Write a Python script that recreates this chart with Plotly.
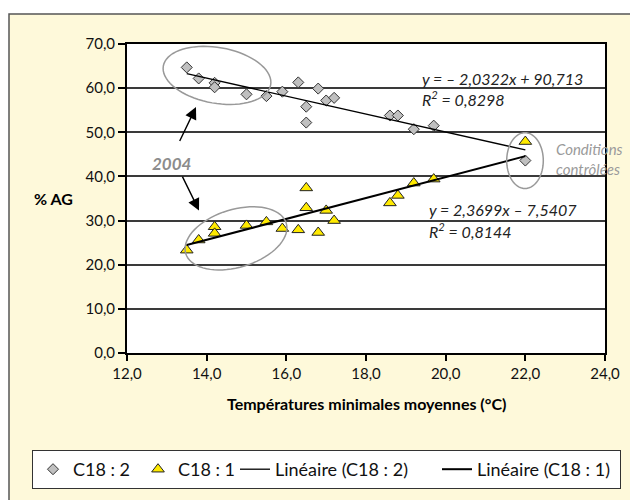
import math
import plotly.graph_objects as go

# ---------------- data ----------------
temp_c182 = [13.5, 13.8, 14.2, 14.2, 15.0, 15.5, 15.9, 16.3, 16.5, 16.5, 16.8, 17.0, 17.2, 18.6, 18.8, 19.2, 19.7, 22.0]
val_c182 = [64.7, 62.2, 61.2, 60.2, 58.6, 58.2, 59.2, 61.3, 55.8, 52.2, 59.9, 57.2, 57.8, 53.8, 53.8, 50.7, 51.5, 43.6]
temp_c181 = [13.5, 13.8, 14.2, 14.2, 15.0, 15.5, 15.9, 16.3, 16.5, 16.5, 16.8, 17.0, 17.2, 18.6, 18.8, 19.2, 19.7, 22.0]
val_c181 = [23.3, 25.6, 28.6, 27.1, 28.9, 29.7, 28.2, 27.9, 37.4, 32.9, 27.3, 32.3, 30.0, 34.0, 35.7, 38.5, 39.4, 47.9]

fit_c182 = (-2.0322, 90.713)   # slope, intercept
fit_c181 = (2.3699, -7.5407)
fit_x_range = [13.5, 22.0]

x_tickvals = [12, 14, 16, 18, 20, 22, 24]
x_ticktext = ["12,0", "14,0", "16,0", "18,0", "20,0", "22,0", "24,0"]
y_tickvals = [0, 10, 20, 30, 40, 50, 60, 70]
y_ticktext = ["0,0", "10,0", "20,0", "30,0", "40,0", "50,0", "60,0", "70,0"]

name_c182 = "C18 : 2"
name_c181 = "C18 : 1"
name_lin182 = "Linéaire (C18 : 2)"
name_lin181 = "Linéaire (C18 : 1)"

# ---------------- layout geometry ----------------
# The page body has an 8px margin, so the figure is drawn 8px right / down.
OFF = 8
W, H = 638 - OFF, 500 - OFF
# plot area in page pixels: x 127..605, y 44..354
ML, MR, MT, MB = 127 - OFF, 33, 44 - OFF, 146
XR = [12, 24]
YR = [0, 70]
PW = W - ML - MR
PH = H - MT - MB


def px2data(px, py):
    """page pixel -> data coords"""
    px -= OFF
    py -= OFF
    x = XR[0] + (px - ML) / PW * (XR[1] - XR[0])
    y = YR[1] - (py - MT) / PH * (YR[1] - YR[0])
    return x, y


def px2paper(px, py):
    """page pixel -> paper coords"""
    px -= OFF
    py -= OFF
    return (px - ML) / PW, (H - MB - py) / PH


def ellipse_path(cx, cy, a, b, theta_deg, n=72):
    th = math.radians(theta_deg)
    pts = []
    for i in range(n):
        t = 2 * math.pi * i / n
        ex = cx + a * math.cos(t) * math.cos(th) - b * math.sin(t) * math.sin(th)
        ey = cy + a * math.cos(t) * math.sin(th) + b * math.sin(t) * math.cos(th)
        pts.append(px2data(ex, ey))
    return "M " + " L ".join(f"{x:.4f},{y:.4f}" for x, y in pts) + " Z"


FONT = "Lato, 'Open Sans', sans-serif"
CREAM = "#FEF9DA"

fig = go.Figure()

fig.add_trace(go.Scatter(
    x=temp_c182, y=val_c182, mode="markers", name=name_c182,
    marker=dict(symbol="diamond", size=8.5, color="#C0C0C0",
                line=dict(color="#333333", width=1)),
    legendwidth=60,
))
fig.add_trace(go.Scatter(
    x=temp_c181, y=val_c181, mode="markers", name=name_c181,
    marker=dict(symbol="triangle-up", size=11, color="#FFEA00",
                line=dict(color="#222222", width=1)),
    legendwidth=52,
))
fig.add_trace(go.Scatter(
    x=fit_x_range, y=[fit_c182[0] * v + fit_c182[1] for v in fit_x_range],
    mode="lines", name=name_lin182, line=dict(color="black", width=1.3),
    legendwidth=157,
))
fig.add_trace(go.Scatter(
    x=fit_x_range, y=[fit_c181[0] * v + fit_c181[1] for v in fit_x_range],
    mode="lines", name=name_lin181, line=dict(color="black", width=2),
    legendwidth=138,
))

# ---------------- background frame ----------------
fx0, fy1 = px2paper(9, 14)
fx1, fy0 = px2paper(660, 520)
shapes = [
    dict(type="rect", xref="paper", yref="paper", x0=fx0, x1=fx1, y0=fy0, y1=fy1,
         fillcolor=CREAM, line=dict(color="#555555", width=1.5), layer="below"),
    dict(type="rect", xref="paper", yref="paper", x0=0, x1=1, y0=0, y1=1,
         fillcolor="white", line=dict(width=0), layer="below"),
    dict(type="path", xref="x", yref="y", path=ellipse_path(217, 75.5, 54.5, 28, 10),
         line=dict(color="#999999", width=1.5)),
    dict(type="path", xref="x", yref="y", path=ellipse_path(236, 239, 52.5, 29, -17),
         line=dict(color="#999999", width=1.5)),
    dict(type="path", xref="x", yref="y", path=ellipse_path(525, 161, 18.3, 28, 0),
         line=dict(color="#999999", width=1.5)),
]

# ---------------- annotations ----------------
ann = []
eq_font = dict(family=FONT, size=16, color="#222222", style="italic")
for (px, py, txt) in [
    (419.7, 79, "y = – 2,0322x + 90,713"),
    (419.7, 99, "R<sup>2</sup> = 0,8298"),
    (427.3, 210, "y = 2,3699x – 7,5407"),
    (427.3, 230.7, "R<sup>2</sup> = 0,8144"),
]:
    x, y = px2data(px, py)
    ann.append(dict(x=x, y=y, xref="x", yref="y", text=txt, showarrow=False,
                    xanchor="left", yanchor="middle", font=eq_font))

cx, cy = px2data(554, 159.5)
ann.append(dict(x=cx, y=cy, xref="x", yref="y", text="Conditions<br>contrôlées",
                showarrow=False, xanchor="left", yanchor="middle", align="left",
                font=dict(family=FONT, size=15, color="#9a9a9a", style="italic")))

tx, ty = px2data(172, 164.3)
ann.append(dict(x=tx, y=ty, xref="x", yref="y", text="<b>2004</b>", showarrow=False,
                xanchor="center", yanchor="middle",
                font=dict(family=FONT, size=17, color="#8c8c8c", style="italic")))

for (tipx, tipy, tailx, taily) in [(196, 107.3, 179, 142.7), (199, 211, 181.7, 175.7)]:
    x, y = px2data(tipx, tipy)
    ann.append(dict(x=x, y=y, xref="x", yref="y", ax=tailx - tipx, ay=taily - tipy,
                    text="", showarrow=True, arrowhead=2, arrowsize=1.7,
                    arrowwidth=1.4, arrowcolor="black", standoff=0))

yx, yy = px2paper(32, 199)
ann.append(dict(x=yx, y=yy, xref="paper", yref="paper", text="<b>% AG</b>",
                showarrow=False, xanchor="left", yanchor="middle",
                font=dict(family=FONT, size=16, color="black")))

tx2, ty2 = px2paper(366, 405)
ann.append(dict(x=tx2, y=ty2, xref="paper", yref="paper",
                text="<b>Températures minimales moyennes (°C)</b>",
                showarrow=False, xanchor="center", yanchor="middle",
                font=dict(family=FONT, size=16, color="black")))

lx, ly = px2paper(32, 450)

fig.update_layout(
    width=W, height=H,
    margin=dict(l=ML, r=MR, t=MT, b=MB),
    paper_bgcolor="white",
    plot_bgcolor="white",
    font=dict(family=FONT, size=15, color="#111111"),
    shapes=shapes,
    annotations=ann,
    showlegend=True,
    legend=dict(orientation="h", x=lx, y=ly, xanchor="left", yanchor="top",
                bgcolor="white", bordercolor="#333333", borderwidth=1,
                font=dict(family=FONT, size=18, color="#111111"),
                itemclick=False, itemdoubleclick=False),
    xaxis=dict(range=XR, tickvals=x_tickvals, ticktext=x_ticktext,
               showgrid=False, zeroline=False, showline=True, linecolor="black",
               linewidth=2, mirror=True, ticks="outside", ticklen=6,
               tickcolor="black", tickwidth=1.5,
               tickfont=dict(family=FONT, size=15, color="#111111")),
    yaxis=dict(range=YR, tickvals=y_tickvals, ticktext=y_ticktext,
               showgrid=True, gridcolor="#3a3a3a", gridwidth=1.5,
               zeroline=False, showline=True, linecolor="black",
               linewidth=2, mirror=True, ticks="outside", ticklen=7,
               tickcolor="black", tickwidth=1.5,
               tickfont=dict(family=FONT, size=15, color="#111111")),
)

fig.write_html("out.html")
